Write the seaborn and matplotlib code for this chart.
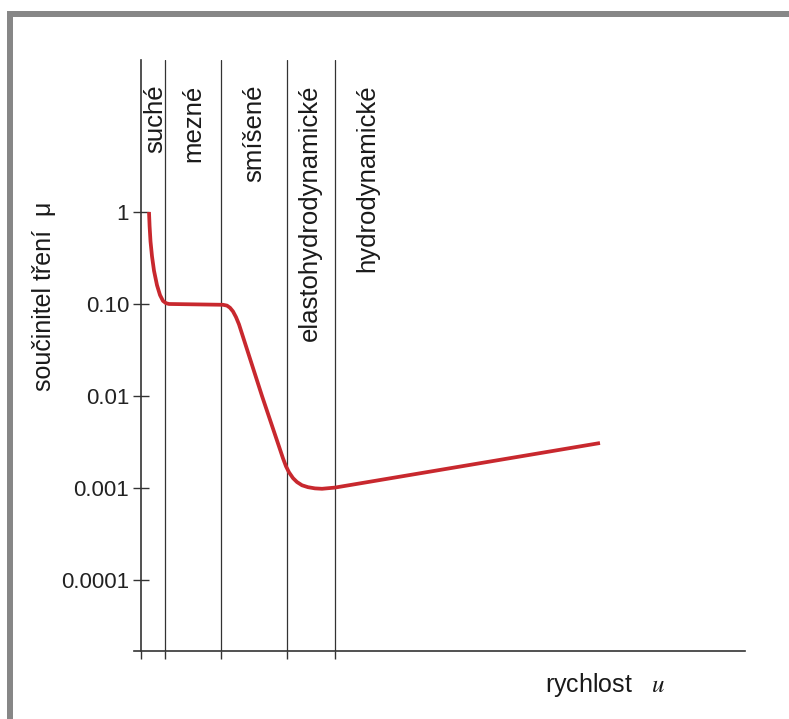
import numpy as np
import pandas as pd
import matplotlib
matplotlib.use('Agg')
from matplotlib import pyplot as plt
from matplotlib.patches import Rectangle
import matplotlib.transforms as mtransforms
import seaborn as sns

# rychlost (arbitrary units) vs. součinitel tření (Stribeck curve)
speed = [8, 8.6, 9.5, 11, 13, 16, 19, 22, 25, 28, 82, 86, 89, 92, 95, 98,
         121, 142, 145, 148, 152, 156, 161, 167, 174, 181, 194, 459]
mu = [1.0, 0.70, 0.48, 0.33, 0.23, 0.16, 0.125, 0.108, 0.102, 0.100, 0.098, 0.096,
      0.091, 0.083, 0.072, 0.060, 0.010, 0.0021, 0.00172, 0.00148, 0.00128,
      0.00116, 0.00107, 0.00102, 0.00099, 0.00098, 0.00101, 0.00308]

regions = ['suché', 'mezné', 'smíšené', 'elastohydrodynamické', 'hydrodynamické']
region_edges = [0, 24, 80, 146, 194]
region_label_x = [14, 52, 113, 169, 226]

y_ticks = [1, 0.1, 0.01, 0.001, 0.0001]
y_ticklabels = ['1', '0.10', '0.01', '0.001', '0.0001']

sns.set_theme(style='white')
plt.rcParams['font.family'] = ['Liberation Sans', 'DejaVu Sans']
plt.rcParams['mathtext.fontset'] = 'stix'

AX_COLOR = '#333333'
RED = '#c8282e'

fig = plt.figure(figsize=(7.89, 7.19), dpi=100)
ax = fig.add_axes([134 / 789, 68 / 719, 611 / 789, 591 / 719])

df = pd.DataFrame({'rychlost': speed, 'mu': mu})
sns.lineplot(data=df, x='rychlost', y='mu', ax=ax, color=RED, lw=2.7,
             estimator=None, sort=False, solid_capstyle='butt', solid_joinstyle='round')

ax.set_yscale('log')
ax.set_ylim(10 ** -4.772, 10 ** 1.652)
ax.set_xlim(-7, 604)

for xe in region_edges[1:]:
    ax.axvline(xe, color=AX_COLOR, lw=0.9, zorder=1)

trans = mtransforms.blended_transform_factory(ax.transData, ax.transAxes)
for name, xl in zip(regions, region_label_x):
    ax.text(xl, 0.958, name, rotation=90, ha='center', va='top', transform=trans,
            fontsize=18.5, color='#1a1a1a')

for s in ['top', 'right']:
    ax.spines[s].set_visible(False)
ax.spines['left'].set_position(('data', 0))
for s in ['left', 'bottom']:
    ax.spines[s].set_color(AX_COLOR)
    ax.spines[s].set_linewidth(1.2)

ax.set_xticks(region_edges)
ax.set_xticklabels([])
ax.tick_params(axis='x', direction='out', length=5.5, width=1.0, color=AX_COLOR, bottom=True)
ax.set_yticks(y_ticks)
ax.set_yticklabels(y_ticklabels)
ax.minorticks_off()
ax.tick_params(axis='y', direction='inout', length=11, width=1.0, color=AX_COLOR,
               labelsize=16, labelcolor='#222222', pad=3, left=True)

ax.set_ylabel('součinitel tření  μ', fontsize=18, color='#1a1a1a')
ax.yaxis.set_label_coords(-0.128, 0.60)
ax.set_xlabel('rychlost   $u$', fontsize=18, color='#1a1a1a')
ax.xaxis.set_label_coords(0.771, -0.034)
ax.grid(False)

# grey frame (top and left edges of the original figure border)
border = '#878787'
fig.add_artist(Rectangle((7 / 789, 0), 6 / 789, 708 / 719, transform=fig.transFigure,
                         color=border, lw=0))
fig.add_artist(Rectangle((7 / 789, 702 / 719), 1, 6 / 719, transform=fig.transFigure,
                         color=border, lw=0))

fig.savefig('out.png', dpi=100, facecolor='white')
